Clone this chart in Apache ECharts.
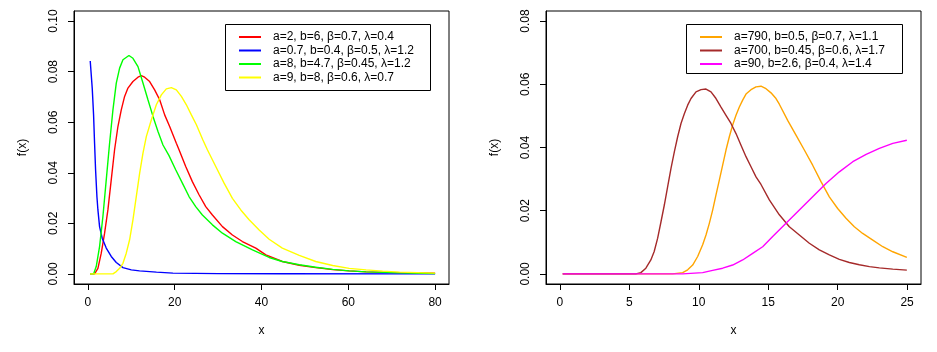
<!DOCTYPE html>
<html>
<head>
<meta charset="utf-8">
<script src="https://cdn.jsdelivr.net/npm/echarts@6/dist/echarts.min.js"></script>
<style>
  html, body { margin: 0; padding: 0; background: #fff; }
  #main { width: 937px; height: 352px; }
</style>
</head>
<body>
<div id="main"></div>
<script>
// left panel: four densities
const redX = [0.5, 1.54, 2.31, 3.08, 3.85, 4.61, 5.38, 6.15, 6.92, 7.69, 8.46, 9.23, 10.38, 11.54, 12.3, 13.08, 14.23, 15.38, 16.54, 17.69, 18.84, 20.38, 21.0, 22.54, 24.07, 25.61, 27.15, 28.69, 31.0, 33.3, 35.6, 38.69, 41.0, 44.8, 48.7, 52.5, 56.4, 60.2, 64.1, 71.8, 80];
const redY = [0, 0, 0.0022, 0.0082, 0.0161, 0.0253, 0.0372, 0.0491, 0.0583, 0.0649, 0.0702, 0.0735, 0.0761, 0.0778, 0.0784, 0.0778, 0.0761, 0.0728, 0.0689, 0.0629, 0.0583, 0.0517, 0.0491, 0.0425, 0.0365, 0.0313, 0.0266, 0.0233, 0.0187, 0.0154, 0.0128, 0.0102, 0.0075, 0.0049, 0.0034, 0.0025, 0.0017, 0.0012, 0.0008, 0.0005, 0.0003];

const blueX = [0.54, 1.0, 1.31, 1.54, 1.77, 2.08, 2.31, 2.69, 3.3, 4.23, 5.38, 6.54, 8.08, 10.0, 11.9, 15.8, 19.6, 30, 45, 80];
const blueY = [0.0842, 0.0735, 0.0629, 0.0517, 0.0412, 0.0306, 0.0253, 0.0187, 0.0141, 0.0102, 0.0069, 0.0045, 0.0025, 0.0016, 0.0012, 0.0007, 0.0003, 0.0001, 0.00005, 0];

const greenX = [0.5, 1.31, 1.92, 2.69, 3.46, 4.23, 5.0, 5.77, 6.54, 7.31, 8.08, 9.46, 10.38, 11.54, 12.69, 13.84, 15.0, 16.15, 17.3, 18.69, 20.23, 21.77, 23.3, 24.84, 26.38, 28.69, 31.0, 34.07, 37.92, 41.76, 44.8, 48.7, 52.5, 56.4, 60.2, 64.1, 71.8, 80];
const greenY = [0, 0, 0.0029, 0.0108, 0.0227, 0.0372, 0.0517, 0.0649, 0.0755, 0.0814, 0.0847, 0.0864, 0.0853, 0.0820, 0.0755, 0.0689, 0.0623, 0.0563, 0.0510, 0.0468, 0.0412, 0.0359, 0.0306, 0.0266, 0.0233, 0.0194, 0.0161, 0.0128, 0.0095, 0.0065, 0.0049, 0.0036, 0.0026, 0.0018, 0.0012, 0.0008, 0.0004, 0.0001];

const yellowX = [0.5, 5.77, 6.54, 7.31, 8.08, 8.84, 9.61, 10.38, 11.15, 11.92, 12.69, 13.46, 14.61, 15.77, 16.92, 18.07, 19.23, 20.38, 21.54, 22.69, 23.84, 25.0, 26.5, 27.53, 29.46, 31.38, 33.3, 35.23, 37.15, 39.46, 41.76, 44.8, 48.7, 52.5, 56.4, 60.2, 64.1, 67.9, 71.8, 80];
const yellowY = [0, 0, 0.0009, 0.0022, 0.0042, 0.0082, 0.0135, 0.0214, 0.0306, 0.0398, 0.0478, 0.0543, 0.0609, 0.0669, 0.0708, 0.0732, 0.0737, 0.0728, 0.0702, 0.0669, 0.0629, 0.0590, 0.0530, 0.0491, 0.0425, 0.0359, 0.0299, 0.0253, 0.0214, 0.0174, 0.0137, 0.0102, 0.0073, 0.0049, 0.0033, 0.0022, 0.0016, 0.0011, 0.0007, 0.0003];

// right panel
const orangeX = [0.2, 8.12, 8.84, 9.2, 9.56, 9.92, 10.28, 10.52, 10.76, 11.0, 11.24, 11.48, 11.72, 11.96, 12.2, 12.44, 12.68, 12.92, 13.16, 13.4, 13.76, 14.12, 14.48, 14.84, 15.2, 15.56, 15.8, 16.4, 17.0, 17.6, 18.2, 18.8, 19.4, 20.0, 20.6, 21.2, 21.8, 22.53, 23.25, 23.97, 24.98];
const orangeY = [0, 0, 0.0004, 0.0013, 0.0028, 0.0055, 0.0092, 0.0123, 0.0160, 0.0202, 0.0250, 0.0297, 0.0344, 0.0392, 0.0434, 0.0471, 0.0502, 0.0528, 0.0550, 0.0569, 0.0583, 0.0592, 0.0594, 0.0586, 0.0573, 0.0555, 0.0537, 0.0486, 0.0439, 0.0392, 0.0344, 0.0292, 0.0244, 0.0207, 0.0176, 0.0149, 0.0128, 0.0107, 0.0086, 0.0070, 0.0052];

const brownX = [0.2, 5.47, 5.83, 6.19, 6.55, 6.79, 7.04, 7.28, 7.52, 7.76, 8.0, 8.24, 8.48, 8.72, 8.96, 9.2, 9.44, 9.8, 10.16, 10.52, 10.88, 11.24, 11.6, 11.96, 12.32, 12.68, 13.04, 13.4, 13.76, 14.12, 14.48, 15.08, 15.8, 16.52, 17.24, 17.96, 18.68, 19.4, 20.12, 20.84, 21.56, 22.29, 23.0, 23.97, 24.98];
const brownY = [0, 0, 0.0004, 0.0018, 0.0044, 0.0071, 0.0113, 0.0165, 0.0218, 0.0276, 0.0334, 0.0386, 0.0434, 0.0476, 0.0507, 0.0534, 0.0555, 0.0576, 0.0583, 0.0585, 0.0576, 0.0555, 0.0528, 0.0502, 0.0476, 0.0444, 0.0407, 0.0371, 0.0339, 0.0307, 0.0283, 0.0234, 0.0187, 0.0149, 0.0123, 0.0097, 0.0076, 0.0060, 0.0046, 0.0036, 0.0029, 0.0023, 0.0019, 0.0015, 0.0012];

const magentaX = [0.2, 8.84, 10.28, 11.0, 11.72, 12.44, 13.16, 13.88, 14.6, 15.32, 16.28, 17.24, 18.2, 19.16, 20.12, 21.09, 22.05, 23.0, 23.97, 24.98];
const magentaY = [0, 0, 0.0004, 0.0011, 0.0018, 0.0028, 0.0044, 0.0065, 0.0086, 0.0118, 0.0160, 0.0202, 0.0244, 0.0286, 0.0323, 0.0355, 0.0378, 0.0397, 0.0413, 0.0423];

const leftNames = ['a=2, b=6, β=0.7, λ=0.4', 'a=0.7, b=0.4, β=0.5, λ=1.2', 'a=8, b=4.7, β=0.45, λ=1.2', 'a=9, b=8, β=0.6, λ=0.7'];
const rightNames = ['a=790, b=0.5, β=0.7, λ=1.1', 'a=700, b=0.45, β=0.6, λ=1.7', 'a=90, b=2.6, β=0.4, λ=1.4'];

const leftXTicks = [0, 20, 40, 60, 80];
const leftYTicks = [0, 0.02, 0.04, 0.06, 0.08, 0.10];
const rightXTicks = [0, 5, 10, 15, 20, 25];
const rightYTicks = [0, 0.02, 0.04, 0.06, 0.08];

const FONT = 'Liberation Sans, Arial, sans-serif';

const zip = (xs, ys) => xs.map((x, i) => [x, ys[i]]);

const chart = echarts.init(document.getElementById('main'));

function xAxis(idx, min, max, ticks) {
  return {
    type: 'value', gridIndex: idx, min: min, max: max,
    name: 'x', nameLocation: 'middle', nameGap: 41,
    nameTextStyle: { color: '#000', fontSize: 12, fontFamily: FONT },
    axisLine: { show: true, onZero: false, lineStyle: { color: '#000' } },
    axisTick: { show: true, length: 6, customValues: ticks, lineStyle: { color: '#000' } },
    axisLabel: { customValues: ticks, margin: 13, color: '#000', fontSize: 12, fontFamily: FONT },
    splitLine: { show: false }
  };
}

function yAxis(idx, min, max, ticks) {
  return {
    type: 'value', gridIndex: idx, min: min, max: max,
    name: 'f(x)', nameLocation: 'middle', nameGap: 45,
    nameTextStyle: { color: '#000', fontSize: 12, fontFamily: FONT },
    axisLine: { show: true, onZero: false, lineStyle: { color: '#000' } },
    axisTick: { show: true, length: 6, customValues: ticks, lineStyle: { color: '#000' } },
    axisLabel: {
      customValues: ticks, rotate: 90, margin: 14, color: '#000', fontSize: 12, fontFamily: FONT,
      formatter: v => v.toFixed(2)
    },
    splitLine: { show: false }
  };
}

function line(name, xs, ys, color, axis) {
  return {
    name: name, type: 'line', xAxisIndex: axis, yAxisIndex: axis,
    data: zip(xs, ys), symbol: 'none', smooth: false, animation: false,
    lineStyle: { color: color, width: 1.4 }, itemStyle: { color: color }
  };
}

function legend(names, left) {
  return {
    data: names, orient: 'vertical', left: left, top: 31, padding: 0,
    itemWidth: 22, itemHeight: 13, itemGap: 1.5,
    itemStyle: { opacity: 0 },
    textStyle: { color: '#000', fontSize: 12, fontFamily: FONT, padding: [0, 0, 0, 7] },
    selectedMode: false
  };
}

const option = {
  animation: false,
  grid: [
    { left: 74, top: 11, width: 375, height: 273, show: true, borderColor: '#000' },
    { left: 546, top: 11, width: 375, height: 273, show: true, borderColor: '#000' }
  ],
  xAxis: [xAxis(0, -3.2, 83.2, leftXTicks), xAxis(1, -1, 26, rightXTicks)],
  yAxis: [yAxis(0, -0.004, 0.104, leftYTicks), yAxis(1, -0.0032, 0.0832, rightYTicks)],
  legend: [legend(leftNames, 238), legend(rightNames, 699)],
  graphic: [
    { type: 'rect', shape: { x: 225.5, y: 24.5, width: 205, height: 66 }, style: { fill: 'none', stroke: '#000', lineWidth: 1 }, z: 100 },
    { type: 'rect', shape: { x: 686.5, y: 24.5, width: 216, height: 49 }, style: { fill: 'none', stroke: '#000', lineWidth: 1 }, z: 100 }
  ],
  series: [
    line(leftNames[0], redX, redY, '#FF0000', 0),
    line(leftNames[1], blueX, blueY, '#0000FF', 0),
    line(leftNames[2], greenX, greenY, '#00FF00', 0),
    line(leftNames[3], yellowX, yellowY, '#FFFF00', 0),
    line(rightNames[0], orangeX, orangeY, '#FFA500', 1),
    line(rightNames[1], brownX, brownY, '#A52A2A', 1),
    line(rightNames[2], magentaX, magentaY, '#FF00FF', 1)
  ]
};

chart.setOption(option);
</script>
</body>
</html>
